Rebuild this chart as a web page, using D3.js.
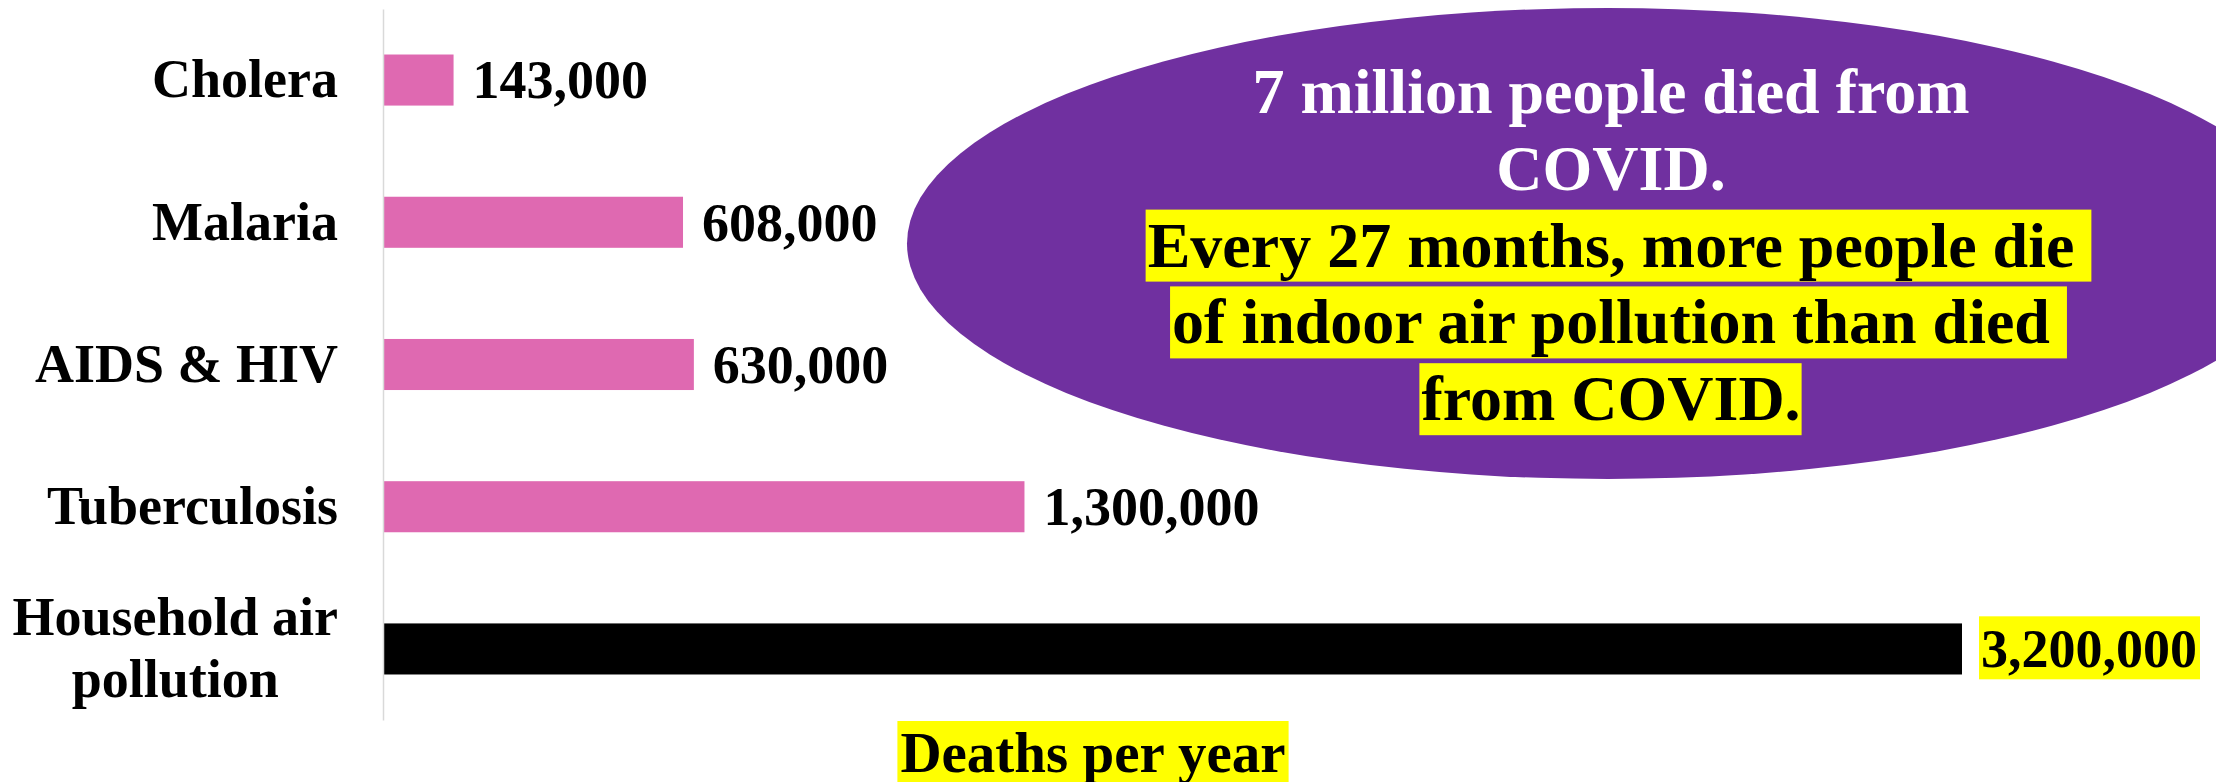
<!DOCTYPE html>
<html>
<head>
<meta charset="utf-8">
<script src="https://cdn.jsdelivr.net/npm/d3@7"></script>
<style>
	body { margin: 0; background: #fff; }
	svg text { font-family: "Liberation Serif", "Times New Roman", serif; font-weight: bold; }
</style>
</head>
<body>
<div class="content"></div>
<script>
const w = 2216;
const h = 782;

// data
const categories = ['Cholera', 'Malaria', 'AIDS & HIV', 'Tuberculosis', 'Household air pollution'];
const deaths = [143000, 608000, 630000, 1300000, 3200000];
const highlighted = 'Household air pollution';
const axisTitle = 'Deaths per year';
const calloutLines = [
	'7 million people died from',
	'COVID.',
	'Every 27 months, more people die ',
	'of indoor air pollution than died ',
	'from COVID.'
];
const calloutMarked = [false, false, true, true, true];

const pink = '#df69b1';
const purple = '#7030a0';
const yellow = '#ffff00';
const labelSize = 54;
const calloutSize = 64;

const data = categories.map((c, i) => ({ cat: c, value: deaths[i] }));

const svg = d3.select('.content').append('svg')
	.attr('width', w)
	.attr('height', h);

const xScale = d3.scaleLinear()
	.domain([0, 3200000])
	.range([383, 1962]);

const yScale = d3.scaleBand()
	.domain(categories)
	.range([9, 720])
	.paddingInner(0.641)
	.paddingOuter(0.32);

// bars
svg.selectAll('rect.bar')
	.data(data)
	.enter()
	.append('rect')
	.attr('class', 'bar')
	.attr('x', xScale(0))
	.attr('y', (d) => yScale(d.cat))
	.attr('width', (d) => xScale(d.value) - xScale(0))
	.attr('height', yScale.bandwidth())
	.attr('fill', (d) => d.cat === highlighted ? '#000' : pink);

// y axis
const yAxis = d3.axisLeft(yScale)
	.tickSize(0)
	.tickSizeOuter(0)
	.tickPadding(45);

const yg = svg.append('g')
	.attr('transform', 'translate(' + xScale(0) + ',0)')
	.call(yAxis);

yg.select('.domain')
	.attr('stroke', '#d9d9d9')
	.attr('stroke-width', 1.5);

yg.selectAll('text')
	.attr('font-size', labelSize)
	.attr('fill', '#000')
	.each(function (d) {
		const t = d3.select(this);
		// wrap long labels onto two centered lines
		const words = d.split(' ');
		const lines = [];
		let cur = '';
		words.forEach((word) => {
			const test = cur ? cur + ' ' + word : word;
			t.text(test);
			if (this.getComputedTextLength() > 340 && cur) {
				lines.push(cur);
				cur = word;
			} else {
				cur = test;
			}
		});
		lines.push(cur);
		t.text(d);
		if (lines.length < 2) return;
		t.text(null);
		const lh = labelSize * 1.15;
		const tsp = lines.map((l) => t.append('tspan').text(l));
		const maxW = d3.max(tsp, (s) => s.node().getComputedTextLength());
		const x0 = -45 - maxW / 2;
		t.attr('text-anchor', 'middle').attr('dy', null);
		tsp.forEach((s, i) => {
			s.attr('x', x0)
				.attr('dy', i === 0 ? (0.32 * labelSize - lh * (lines.length - 1) / 2) : lh);
		});
	});

// value labels
const fmt = d3.format(',');
const labels = svg.selectAll('g.vlabel')
	.data(data)
	.enter()
	.append('g')
	.attr('class', 'vlabel');

labels.append('text')
	.attr('x', (d) => xScale(d.value) + 19)
	.attr('y', (d) => yScale(d.cat) + yScale.bandwidth() / 2)
	.attr('dy', '0.34em')
	.attr('font-size', labelSize)
	.attr('fill', '#000')
	.text((d) => fmt(d.value));

labels.filter((d) => d.cat === highlighted)
	.each(function () {
		const g = d3.select(this);
		const bb = g.select('text').node().getBBox();
		g.insert('rect', 'text')
			.attr('x', bb.x - 2)
			.attr('y', bb.y - 3)
			.attr('width', bb.width + 5)
			.attr('height', bb.height + 3)
			.attr('fill', yellow);
	});

// axis title
const tg = svg.append('g');
const tt = tg.append('text')
	.attr('x', 1093)
	.attr('y', 772)
	.attr('text-anchor', 'middle')
	.attr('font-size', 57)
	.attr('fill', '#000')
	.text(axisTitle);
const tb = tt.node().getBBox();
tg.insert('rect', 'text')
	.attr('x', tb.x - 3)
	.attr('y', tb.y)
	.attr('width', tb.width + 6)
	.attr('height', tb.height + 10)
	.attr('fill', yellow);

// callout bubble
const cg = svg.append('g');
cg.append('ellipse')
	.attr('cx', 1608)
	.attr('cy', 243.5)
	.attr('rx', 701)
	.attr('ry', 235.5)
	.attr('fill', purple);

const cx = 1611;
const lineH = 76.8;
calloutLines.forEach((line, i) => {
	const g = cg.append('g');
	const txt = g.append('text')
		.attr('x', cx)
		.attr('y', 113 + i * lineH)
		.attr('text-anchor', 'middle')
		.attr('font-size', calloutSize)
		.attr('fill', calloutMarked[i] ? '#000' : '#fff')
		.text(line.trimEnd());
	if (calloutMarked[i]) {
		const bb = txt.node().getBBox();
		const extra = (line.length - line.trimEnd().length) * 0.25 * calloutSize;
		g.insert('rect', 'text')
			.attr('x', bb.x - 2)
			.attr('y', bb.y)
			.attr('width', bb.width + extra + 3)
			.attr('height', bb.height + 1)
			.attr('fill', yellow);
	}
});
</script>
</body>
</html>
